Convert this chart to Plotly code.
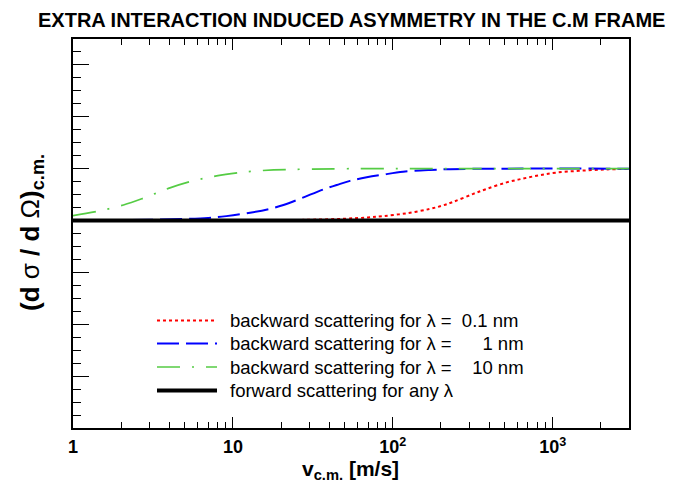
import plotly.graph_objects as go

# Angular cross-section in the centre-of-mass frame vs. c.m. velocity
v_red = [1, 10, 30, 50, 70, 87, 122, 171, 205, 239, 319, 387, 515, 655, 832, 1060, 1480, 2180, 3000]
y_red = [0.800, 0.8005, 0.803, 0.807, 0.812, 0.817, 0.828, 0.845, 0.858, 0.872, 0.903, 0.922, 0.947,
         0.962, 0.975, 0.985, 0.992, 0.997, 0.999]

v_blue = [1, 3, 5, 7, 9.1, 12.8, 17, 20.7, 26.3, 36.8, 44.6, 54, 68.7, 87, 116, 171, 228, 500, 3000]
y_blue = [0.800, 0.803, 0.806, 0.810, 0.817, 0.830, 0.845, 0.860, 0.884, 0.920, 0.937, 0.953, 0.967,
          0.977, 0.988, 0.995, 0.998, 1.000, 1.000]

v_green = [1.0, 1.41, 2.07, 2.75, 3.3, 4.04, 5.4, 6.5, 7.9, 11.1, 13.2, 18, 28, 60, 3000]
y_green = [0.819, 0.835, 0.860, 0.886, 0.905, 0.926, 0.950, 0.962, 0.972, 0.985, 0.990, 0.995,
           0.998, 1.000, 1.000]

v_fwd = [1, 3000]
y_fwd = [0.8, 0.8]

x_tickvals = [1, 10, 100, 1000]
x_ticktext = ["1", "10", "10<sup>2</sup>", "10<sup>3</sup>"]
x_minor = [2, 3, 4, 5, 6, 7, 8, 9, 20, 30, 40, 50, 60, 70, 80, 90,
           200, 300, 400, 500, 600, 700, 800, 900, 2000]

NB = "\u00a0"
legend_labels = [
    "backward scattering for \u03bb =" + NB * 2 + "0.1 nm",
    "backward scattering for \u03bb =" + NB * 6 + "1 nm",
    "backward scattering for \u03bb =" + NB * 4 + "10 nm",
    "forward scattering for any \u03bb",
]

FONT = "Liberation Sans, Arial, Helvetica, sans-serif"
W, H = 689, 485
L, R, T, B = 73, 60, 39, 57
PW, PH = W - L - R, H - T - B

styles = [
    dict(color="#ff0000", width=2, dash="3px,3px"),
    dict(color="#0000ff", width=2, dash="22px,7px"),
    dict(color="#55cc44", width=1.7, dash="23px,12px,2px,12px"),
    dict(color="#000000", width=4, dash="solid"),
]

fig = go.Figure()
for xs, ys, st in zip([v_red, v_blue, v_green, v_fwd], [y_red, y_blue, y_green, y_fwd], styles):
    fig.add_trace(go.Scatter(x=xs, y=ys, mode="lines", showlegend=False,
                             line=dict(color=st["color"], width=st["width"], dash=st["dash"],
                                       shape="spline", smoothing=1.0),
                             hoverinfo="skip"))

def px_x(p):
    return (p - L) / PW

def px_y(p):
    return (H - B - p) / PH

# legend block
rows = [320.5, 343.5, 367, 390.5]
shapes = []
annotations = []
for lab, st, ry in zip(legend_labels, styles, rows):
    shapes.append(dict(type="line", xref="paper", yref="paper",
                       x0=px_x(157), x1=px_x(217), y0=px_y(ry), y1=px_y(ry),
                       line=dict(color=st["color"], width=st["width"], dash=st["dash"])))
    annotations.append(dict(text=lab, xref="paper", yref="paper", x=px_x(228), y=px_y(ry),
                            xanchor="left", yanchor="middle", showarrow=False,
                            font=dict(family=FONT, size=18.5, color="black")))

annotations.append(dict(text="<b>EXTRA INTERACTION INDUCED ASYMMETRY IN THE C.M FRAME</b>",
                        xref="paper", yref="paper", x=px_x(351), y=px_y(20),
                        xanchor="center", yanchor="middle", showarrow=False,
                        font=dict(family=FONT, size=20, color="black")))
annotations.append(dict(text="<b>(d</b> \u03c3 <b>/ d</b> \u03a9<b>)</b><sub><b>c.m.</b></sub>",
                        xref="paper", yref="paper", x=px_x(31), y=px_y(233),
                        xanchor="center", yanchor="middle", textangle=-90, showarrow=False,
                        font=dict(family=FONT, size=26, color="black")))
annotations.append(dict(text="<b>v<sub>c.m.</sub> [m/s]</b>",
                        xref="paper", yref="paper", x=px_x(350), y=px_y(470),
                        xanchor="center", yanchor="middle", showarrow=False,
                        font=dict(family=FONT, size=21, color="black")))

fig.update_layout(
    width=W, height=H,
    margin=dict(l=L, r=R, t=T, b=B, pad=0),
    paper_bgcolor="white", plot_bgcolor="white",
    shapes=shapes, annotations=annotations,
    font=dict(family=FONT, color="black"),
    xaxis=dict(type="log", range=[0, 3.4771], tickmode="array", tickvals=x_tickvals,
               ticktext=x_ticktext, ticks="inside", ticklen=11, tickwidth=1.2, tickcolor="black",
               showline=True, linecolor="black", linewidth=1.5, mirror="ticks",
               showgrid=False, zeroline=False,
               tickfont=dict(family=FONT, size=18, color="black", weight="bold"),
               ticklabelstandoff=2,
               minor=dict(tickmode="array", tickvals=x_minor, ticks="inside", ticklen=6,
                          tickwidth=1.2, tickcolor="black", showgrid=False)),
    yaxis=dict(range=[0, 1.5], tick0=0, dtick=0.2, ticks="inside", ticklen=16, tickwidth=1.2,
               tickcolor="black", showticklabels=False, showline=True, linecolor="black",
               linewidth=1.5, mirror=True, showgrid=False, zeroline=False,
               minor=dict(dtick=0.05, tick0=0, ticks="inside", ticklen=8, tickwidth=1.2,
                          tickcolor="black", showgrid=False)),
)

fig.write_html("out.html")
